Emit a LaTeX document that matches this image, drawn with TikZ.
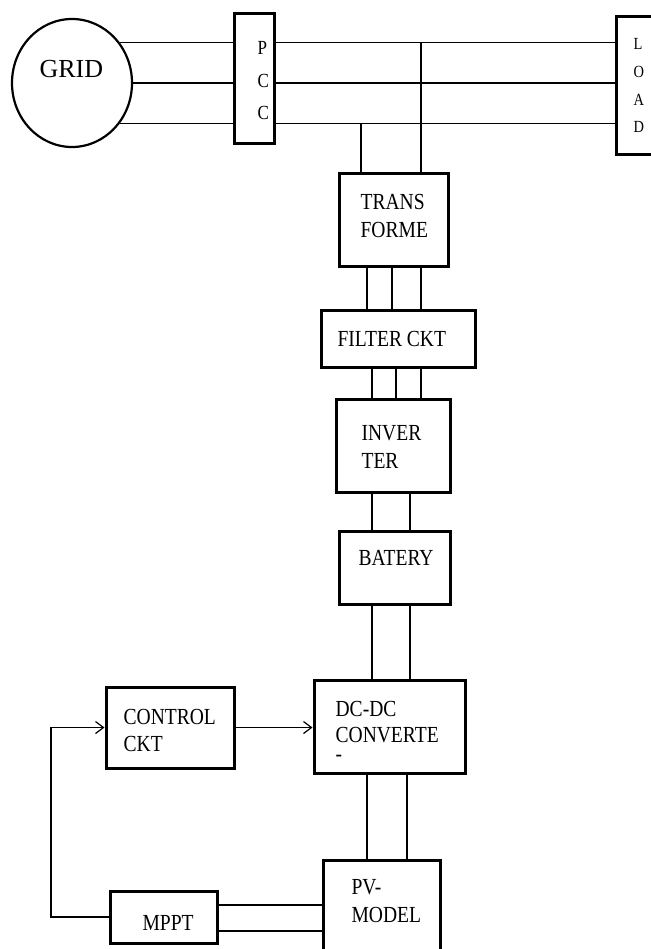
\documentclass[tikz,border=0pt]{standalone}
\usepackage{fontspec}
\setmainfont{Liberation Serif}
\newfontfamily\narrowfont{Liberation Serif}[FakeStretch=0.85]
\usetikzlibrary{shapes.geometric, arrows.meta}

\begin{document}
\begin{tikzpicture}[x=1pt, y=-1pt, line width=1.2pt,
        box/.style={draw, line width=3pt, inner sep=0pt},
        txt/.style={inner sep=0pt, anchor=base west, align=left, font=\narrowfont\fontsize{23}{28}\selectfont},
        arr/.style={-{Straight Barb[length=8pt, width=12pt]}}]
        \useasboundingbox (0,0) rectangle (650,949);

        % Blocks
        \node[draw, ellipse, line width=2.2pt, minimum width=120pt, minimum height=128pt, inner sep=0pt] (grid) at (72,83) {};
        \node[box, minimum width=40pt, minimum height=130pt] (pcc) at (254,79) {};
        \node[box, minimum width=40pt, minimum height=138pt] (load) at (636,86) {};
        \node[box, minimum width=109pt, minimum height=93pt] (trans) at (393.5,220.5) {};
        \node[box, minimum width=154pt, minimum height=57pt] (filter) at (398,338.5) {};
        \node[box, minimum width=114pt, minimum height=93pt] (inv) at (393,445.5) {};
        \node[box, minimum width=111pt, minimum height=73pt] (bat) at (394.5,567.5) {};
        \node[box, minimum width=151pt, minimum height=93pt] (dcdc) at (389.5,726.5) {};
        \node[box, minimum width=128pt, minimum height=81pt] (ctrl) at (170,727.5) {};
        \node[box, minimum width=107pt, minimum height=52pt] (mppt) at (163.5,917) {};
        \node[box, minimum width=117pt, minimum height=95pt] (pv) at (381.5,907.5) {};

        % Labels (base = last line)
        \node[inner sep=0pt, anchor=base west, font=\fontsize{26}{30}\selectfont] (gridtxt) at (39,77.5) {GRID};
        \node[txt, font=\narrowfont\fontsize{20}{32.5}\selectfont] (pcctxt) at (257,120) {P\\C\\C};
        \node[txt, font=\narrowfont\fontsize{17}{27.7}\selectfont] (loadtxt) at (633,133) {L\\O\\A\\D};
        \node[txt] (transtxt) at (360,238) {TRANS\\FORME};
        \node[txt] (filtertxt) at (337,346) {FILTER CKT};
        \node[txt] (invtxt) at (361,468) {INVER\\TER};
        \node[txt] (battxt) at (358,565) {BATERY};
        \node[txt, font=\narrowfont\fontsize{23}{26}\selectfont] (dcdctxt) at (335,761) {DC-DC\\CONVERTE\\[-7pt]-};
        \node[txt, font=\narrowfont\fontsize{23}{27}\selectfont] (ctrltxt) at (123,751) {CONTROL\\CKT};
        \node[txt] (mppttxt) at (142,930) {MPPT};
        \node[txt] (pvtxt) at (351,922) {PV-\\MODEL};

        % Three-phase lines
        \foreach \a in {40,0,-40} {
            \draw (grid.\a) -- (grid.\a -| pcc.west);
            \draw (pcc.east |- grid.\a) -- (load.west |- grid.\a);
        }
        \draw (trans.north -| 421,0) -- (grid.40 -| 421,0);
        \draw (trans.north -| 361,0) -- (grid.-40 -| 361,0);
        \foreach \x in {367,392,421}
            \draw (trans.south -| \x,0) -- (filter.north -| \x,0);
        \foreach \x in {372,396,421}
            \draw (filter.south -| \x,0) -- (inv.north -| \x,0);

        % DC side
        \foreach \x in {372,410} {
            \draw (inv.south -| \x,0) -- (bat.north -| \x,0);
            \draw (bat.south -| \x,0) -- (dcdc.north -| \x,0);
        }
        \foreach \x in {367,407}
            \draw (dcdc.south -| \x,0) -- (pv.north -| \x,0);
        \foreach \y in {905,931}
            \draw (mppt.east |- 0,\y) -- (pv.west |- 0,\y);

        % Control loop
        \draw[arr] (ctrl.east) -- (dcdc.west |- ctrl.east);
        \draw[arr] (mppt.west) -- (mppt.west -| 51,0) |- (ctrl.west);
    \end{tikzpicture}
\end{document}
